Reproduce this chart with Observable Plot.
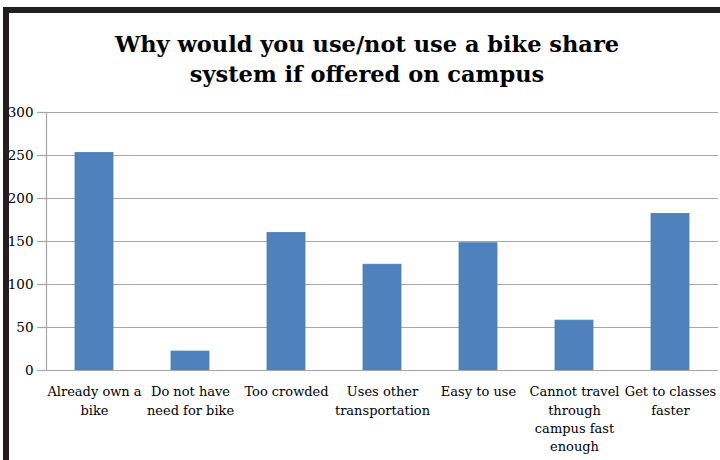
<!DOCTYPE html>
<html>
<head>
<meta charset="utf-8">
<script src="https://cdn.jsdelivr.net/npm/d3@7"></script>
<script src="https://cdn.jsdelivr.net/npm/@observablehq/plot@0.6"></script>
<style>
  html, body { margin: 0; padding: 0; background: #fff; }
  #wrap { position: relative; width: 720px; height: 460px; overflow: hidden; }
  #border { position: absolute; left: 3px; top: 7px; width: 740px; height: 480px;
            border-left: 6px solid #231f20; border-top: 6px solid #231f20; z-index: 2; pointer-events: none; }
  #title { position: absolute; left: 0; top: 29px; width: 734px; text-align: center;
           font-family: "DejaVu Serif", serif; font-weight: bold; font-size: 22.5px; line-height: 30px; color: #000; z-index: 1; }
  #chart { position: absolute; left: 0; top: 0; }
</style>
</head>
<body>
<div id="wrap">
  <div id="chart"></div>
  <div id="title">Why would you use/not use a bike share<br>system if offered on campus</div>
  <div id="border"></div>
</div>
<script>
const categories = ["Already own a bike", "Do not have need for bike", "Too crowded", "Uses other transportation", "Easy to use", "Cannot travel through campus fast enough", "Get to classes faster"];
const values = [253, 22, 160, 123, 148, 58, 182];
const tickLabels = ["Already own a\nbike", "Do not have\nneed for bike", "Too crowded", "Uses other\ntransportation", "Easy to use", "Cannot travel\nthrough\ncampus fast\nenough", "Get to classes\nfaster"];
const yTicks = [0, 50, 100, 150, 200, 250, 300];

const data = categories.map((c, i) => ({category: c, value: values[i]}));
const labelOf = new Map(categories.map((c, i) => [c, tickLabels[i]]));

const chart = Plot.plot({
  width: 720,
  height: 460,
  marginTop: 112,
  marginBottom: 90,
  marginLeft: 46,
  marginRight: 2,
  style: {fontFamily: "DejaVu Serif, serif", fontSize: "13px", color: "#000", background: "transparent"},
  x: {domain: categories, paddingInner: 0.6, paddingOuter: 0.3, label: null, axis: null},
  y: {domain: [0, 300], label: null, axis: null},
  marks: [
    Plot.gridY(yTicks, {stroke: "#a6a6a6", strokeOpacity: 1, strokeWidth: 1.2}),
    Plot.axisY(yTicks, {tickSize: 9, tickPadding: 4, stroke: "#a6a6a6", strokeWidth: 1.2, label: null, fill: "#000", fontSize: 13.5}),
    Plot.ruleX([categories[0]], {dx: -48, y1: 0, y2: 300, stroke: "#a6a6a6", strokeWidth: 1.2}),
    Plot.barY(data, {x: "category", y: "value", fill: "#4f81bd", stroke: "#4a7ebb", strokeWidth: 0.8}),
    Plot.ruleY([0], {stroke: "#a6a6a6", strokeWidth: 1.2}),
    Plot.axisX({tickSize: 0, tickPadding: 13, tickFormat: d => labelOf.get(d), lineHeight: 1.4, label: null, fill: "#000", fontSize: 13})
  ]
});
document.getElementById("chart").appendChild(chart);
</script>
</body>
</html>
